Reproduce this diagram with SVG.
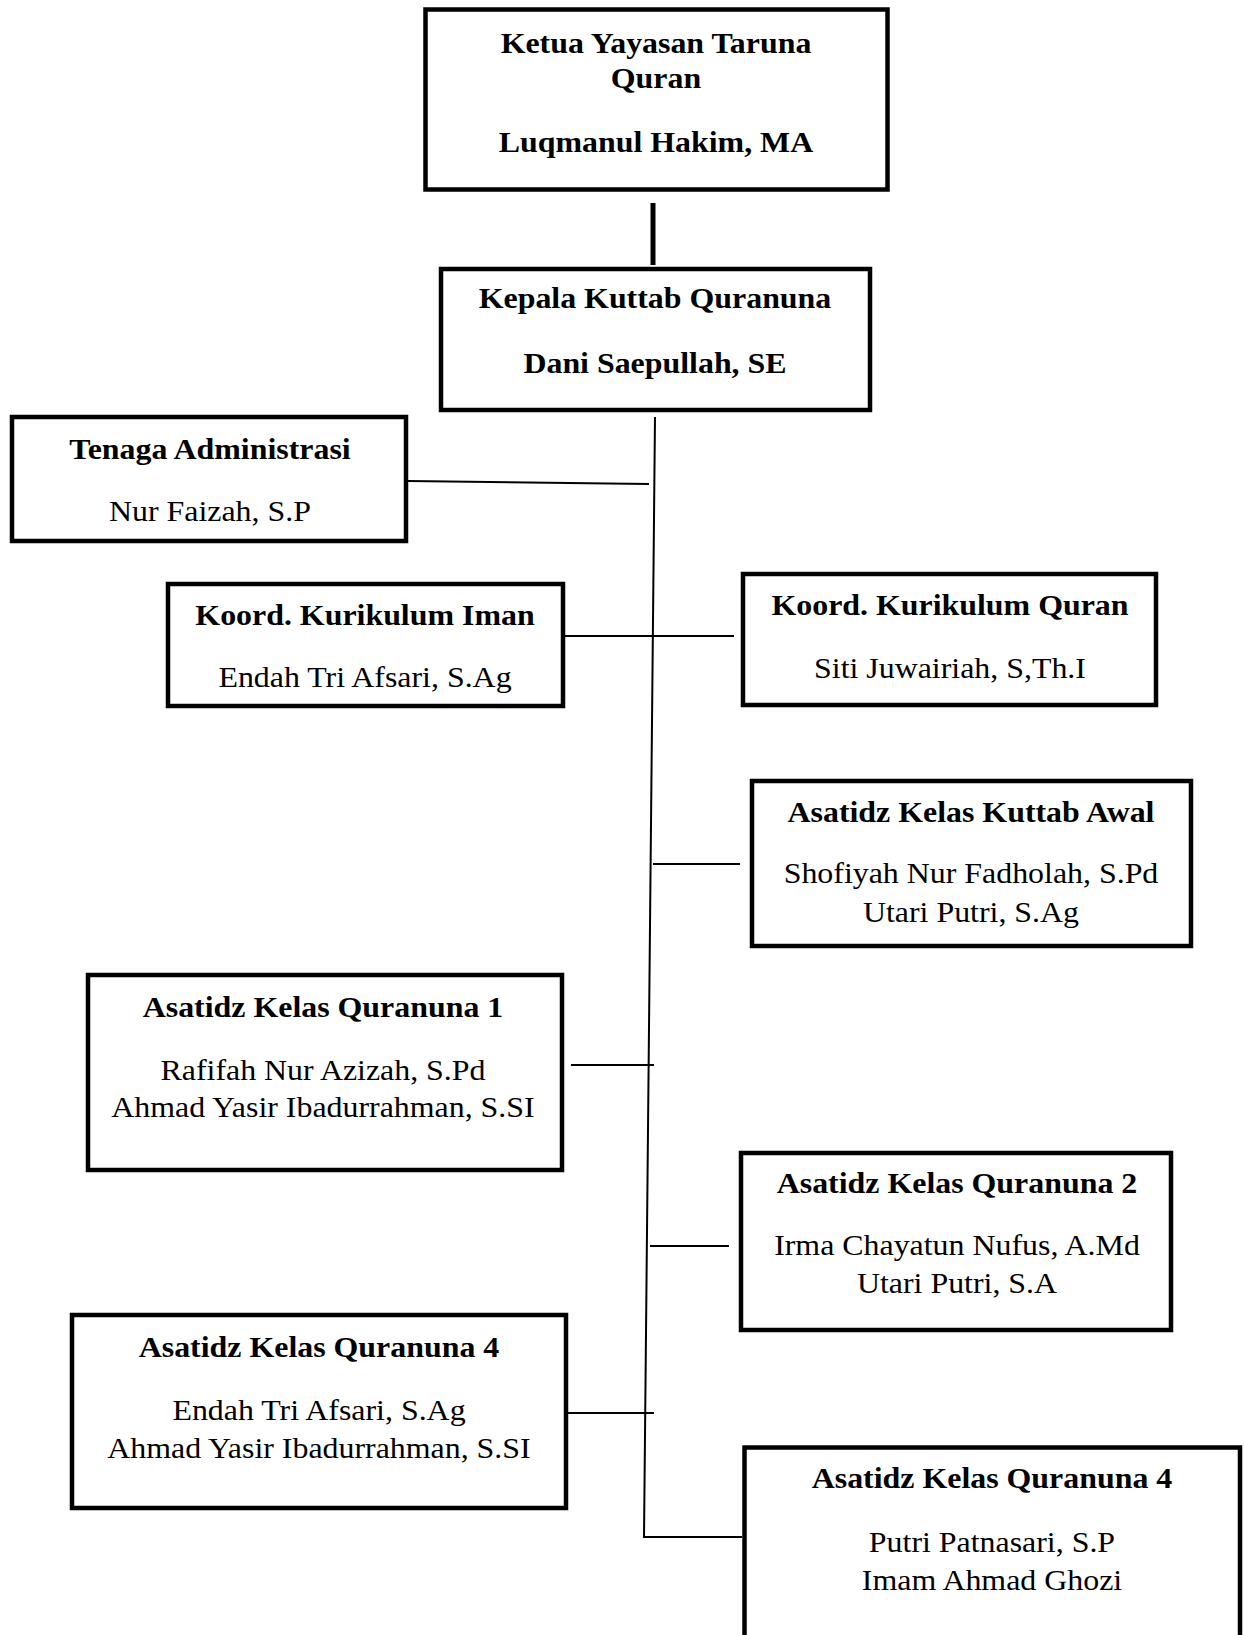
<svg xmlns="http://www.w3.org/2000/svg" width="1244" height="1635" viewBox="0 0 1244 1635">
<style>
.box{fill:#fff;stroke:#000;stroke-width:4.5}
.b{font-family:"Liberation Serif","Times New Roman",serif;font-size:29px;font-weight:bold;text-anchor:middle;fill:#000}
.r{font-family:"Liberation Serif","Times New Roman",serif;font-size:29px;text-anchor:middle;fill:#000}
.ln{stroke:#000;stroke-width:2;fill:none}
</style>
<rect width="1244" height="1635" fill="#fff"/>
<g id="connectors">
<line x1="653" y1="203" x2="653" y2="265" stroke="#000" stroke-width="5"/>
<polyline class="ln" points="655,417 644,1537 742,1537"/>
<line class="ln" x1="408" y1="481" x2="649" y2="484"/>
<line class="ln" x1="565" y1="636" x2="734" y2="636"/>
<line class="ln" x1="653" y1="864" x2="740" y2="864"/>
<line class="ln" x1="571" y1="1065" x2="654" y2="1065"/>
<line class="ln" x1="650" y1="1246" x2="729" y2="1246"/>
<line class="ln" x1="568" y1="1413" x2="654" y2="1413"/>
</g>
<g id="ketua">
<rect class="box" x="425.5" y="9.5" width="462" height="180" stroke-width="5"/>
<g transform="matrix(1.1 0 0 1 -65.6 0)">
<text class="b" x="656" y="53">Ketua Yayasan Taruna</text>
<text class="b" x="656" y="88">Quran</text>
<text class="b" x="656" y="152">Luqmanul Hakim, MA</text>
</g>
</g>
<g id="kepala">
<rect class="box" x="441" y="269" width="429" height="141"/>
<g transform="matrix(1.1 0 0 1 -65.5 0)">
<text class="b" x="655" y="308">Kepala Kuttab Quranuna</text>
<text class="b" x="655" y="373">Dani Saepullah, SE</text>
</g>
</g>
<g id="tenaga">
<rect class="box" x="12" y="417" width="394" height="124"/>
<g transform="matrix(1.1 0 0 1 -21 0)">
<text class="b" x="210" y="459">Tenaga Administrasi</text>
<text class="r" x="210" y="521">Nur Faizah, S.P</text>
</g>
</g>
<g id="koord-iman">
<rect class="box" x="168" y="584" width="395" height="122"/>
<g transform="matrix(1.1 0 0 1 -36.5 0)">
<text class="b" x="365" y="625">Koord. Kurikulum Iman</text>
<text class="r" x="365" y="687">Endah Tri Afsari, S.Ag</text>
</g>
</g>
<g id="koord-quran">
<rect class="box" x="743" y="574" width="413" height="131"/>
<g transform="matrix(1.1 0 0 1 -95 0)">
<text class="b" x="950" y="615">Koord. Kurikulum Quran</text>
<text class="r" x="950" y="678">Siti Juwairiah, S,Th.I</text>
</g>
</g>
<g id="kuttab-awal">
<rect class="box" x="752" y="781" width="439" height="165"/>
<g transform="matrix(1.1 0 0 1 -97.1 0)">
<text class="b" x="971" y="822">Asatidz Kelas Kuttab Awal</text>
<text class="r" x="971" y="883">Shofiyah Nur Fadholah, S.Pd</text>
<text class="r" x="971" y="922">Utari Putri, S.Ag</text>
</g>
</g>
<g id="quranuna-1">
<rect class="box" x="88" y="975" width="474" height="195"/>
<g transform="matrix(1.1 0 0 1 -32.3 0)">
<text class="b" x="323" y="1017">Asatidz Kelas Quranuna 1</text>
<text class="r" x="323" y="1080">Rafifah Nur Azizah, S.Pd</text>
<text class="r" x="323" y="1117">Ahmad Yasir Ibadurrahman, S.SI</text>
</g>
</g>
<g id="quranuna-2">
<rect class="box" x="741" y="1153" width="430" height="177"/>
<g transform="matrix(1.1 0 0 1 -95.7 0)">
<text class="b" x="957" y="1193">Asatidz Kelas Quranuna 2</text>
<text class="r" x="957" y="1255">Irma Chayatun Nufus, A.Md</text>
<text class="r" x="957" y="1293">Utari Putri, S.A</text>
</g>
</g>
<g id="quranuna-4-left">
<rect class="box" x="72" y="1315" width="494" height="193"/>
<g transform="matrix(1.1 0 0 1 -31.9 0)">
<text class="b" x="319" y="1357">Asatidz Kelas Quranuna 4</text>
<text class="r" x="319" y="1420">Endah Tri Afsari, S.Ag</text>
<text class="r" x="319" y="1458">Ahmad Yasir Ibadurrahman, S.SI</text>
</g>
</g>
<g id="quranuna-4-right">
<rect class="box" x="744.5" y="1447.5" width="495.5" height="250"/>
<g transform="matrix(1.1 0 0 1 -99.2 0)">
<text class="b" x="992" y="1488">Asatidz Kelas Quranuna 4</text>
<text class="r" x="992" y="1552">Putri Patnasari, S.P</text>
<text class="r" x="992" y="1590">Imam Ahmad Ghozi</text>
</g>
</g>
</svg>
